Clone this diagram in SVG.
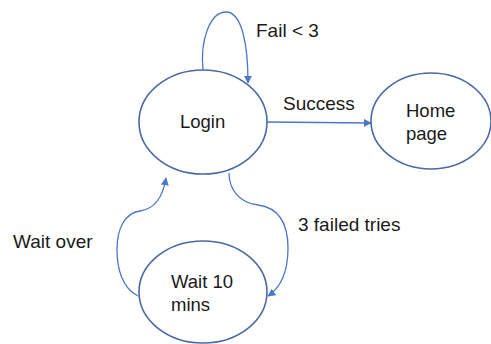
<svg xmlns="http://www.w3.org/2000/svg" width="491" height="344" viewBox="0 0 491 344">
<style>
.node{fill:#fff;stroke:#4a69a3;stroke-width:1.6}
.edge{fill:none;stroke:#4a78c8;stroke-width:1.3}
text{font-family:"Liberation Sans",Arial,sans-serif;font-size:18.5px;fill:#1a1a1a}
.lbl{font-size:19px}
</style>
<defs>
<marker id="arr" viewBox="0 0 10 10" refX="9" refY="5" markerWidth="8" markerHeight="8" markerUnits="userSpaceOnUse" orient="auto">
<path d="M0,0 L10,5 L0,10 z" fill="#4a78c8"/>
</marker>
</defs>
<rect width="491" height="344" fill="#fff"/>
<g id="connectors">
<path class="edge" d="M203,70 C200,40 210,12 226,12 C242,12 248,45 248,83" marker-end="url(#arr)"/>
<path class="edge" d="M267,122 L371,123" marker-end="url(#arr)"/>
<path class="edge" d="M229,173 C229,190 240,203 258,205 C280,208 288,225 288,248 C288,272 280,288 268,296" marker-end="url(#arr)"/>
<path class="edge" d="M138,296 C122,288 117,268 117,250 C117,228 125,213 140,211 C155,209 163,196 166,178" marker-end="url(#arr)"/>
<text class="lbl" x="256" y="37">Fail &lt; 3</text>
<text class="lbl" x="283" y="110">Success</text>
<text class="lbl" x="298" y="231">3 failed tries</text>
<text class="lbl" x="13" y="248">Wait over</text>
</g>
<g id="login">
<ellipse class="node" cx="203" cy="122" rx="64" ry="52"/>
<text x="180" y="128">Login</text>
</g>
<g id="home">
<ellipse class="node" cx="431" cy="121" rx="60" ry="48"/>
<text x="406" y="117">Home</text>
<text x="406" y="140">page</text>
</g>
<g id="wait">
<ellipse class="node" cx="203" cy="292" rx="64" ry="51"/>
<text x="171" y="288">Wait 10</text>
<text x="171" y="311">mins</text>
</g>
</svg>
